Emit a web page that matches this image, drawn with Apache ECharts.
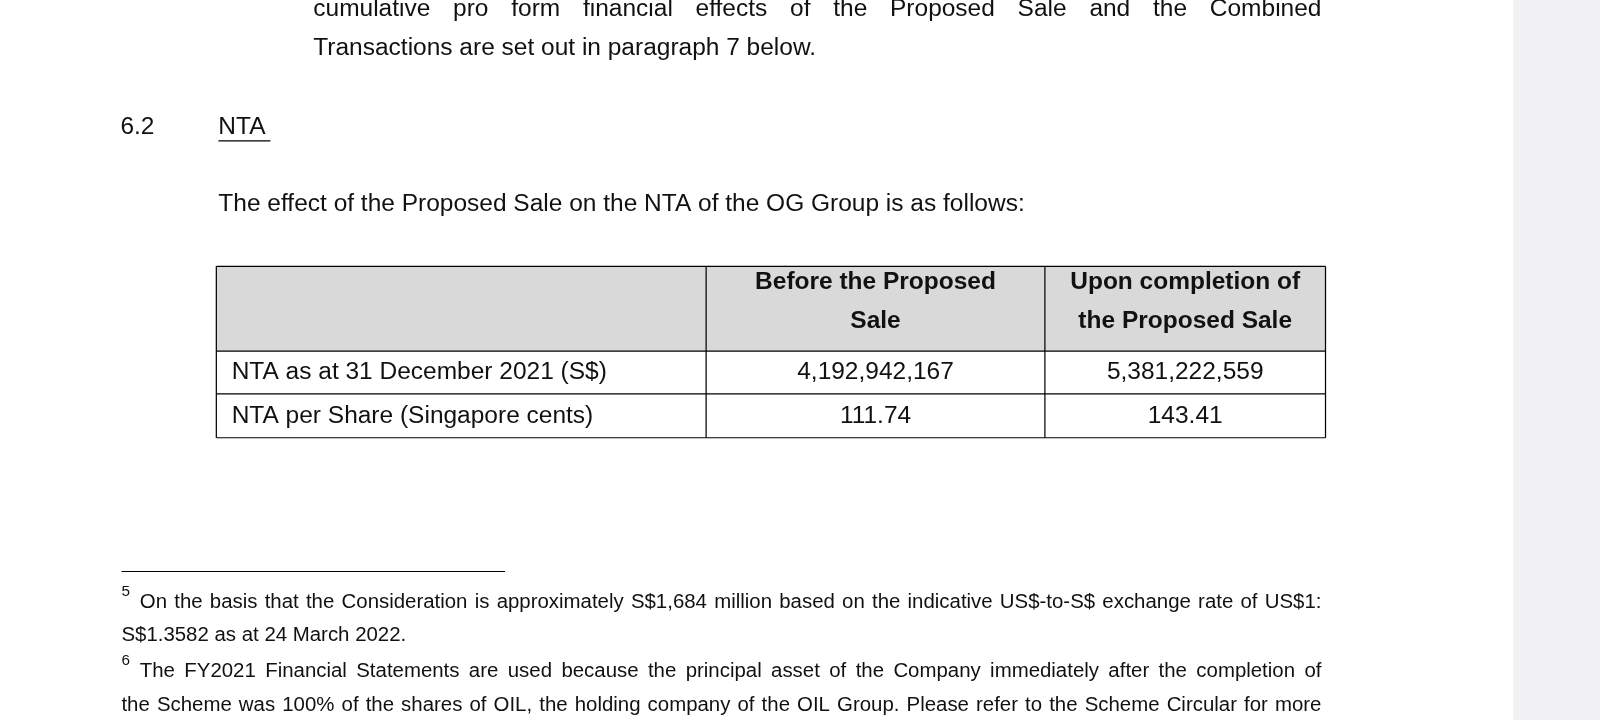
<!DOCTYPE html>
<html><head><meta charset="utf-8">
<script src="https://cdn.jsdelivr.net/npm/echarts@6/dist/echarts.min.js"></script>
<style>html,body{margin:0;padding:0;background:#fff}#c{width:1600px;height:720px}</style>
</head><body><div id="c"></div>
<script>
const introLines = ["cumulative pro form financial effects of the Proposed Sale and the Combined", "Transactions are set out in paragraph 7 below."];
const sectionNo = "6.2";
const sectionTitle = "NTA";
const leadText = "The effect of the Proposed Sale on the NTA of the OG Group is as follows:";
const headers = [["", ""], ["Before the Proposed", "Sale"], ["Upon completion of", "the Proposed Sale"]];
const rowLabels = ["NTA as at 31 December 2021 (S$)", "NTA per Share (Singapore cents)"];
const beforeValues = ["4,192,942,167", "111.74"];
const afterValues = ["5,381,222,559", "143.41"];
const footnotes = [
  {mark: "5", lines: ["On the basis that the Consideration is approximately S$1,684 million based on the indicative US$-to-S$ exchange rate of US$1:", "S$1.3582 as at 24 March 2022."], justify: [true, false]},
  {mark: "6", lines: ["The FY2021 Financial Statements are used because the principal asset of the Company immediately after the completion of", "the Scheme was 100% of the shares of OIL, the holding company of the OIL Group. Please refer to the Scheme Circular for more"], justify: [true, true]}
];

const F = 'Arial, "Liberation Sans", sans-serif';
const g = [];
const ctx = document.createElement('canvas').getContext('2d');
function txt(x, y, s, o) {
  o = o || {};
  g.push({type: 'text', x: x, y: y, style: {text: s, fill: '#111', font: (o.bold ? 'bold ' : '') + (o.size || 24) + 'px ' + F, textAlign: o.align || 'left', textVerticalAlign: 'middle'}});
}
function justified(x0, x1, y, s, size) {
  const words = s.split(' ');
  ctx.font = size + 'px ' + F;
  const tot = words.reduce((a, w) => a + ctx.measureText(w).width, 0);
  const gap = (x1 - x0 - tot) / (words.length - 1);
  let x = x0;
  words.forEach(w => { txt(x, y, w, {size: size}); x += ctx.measureText(w).width + gap; });
}
function line(x1, y1, x2, y2, w) {
  g.push({type: 'line', shape: {x1: x1, y1: y1, x2: x2, y2: y2}, style: {stroke: '#000', lineWidth: w || 1.2}});
}
g.push({type: 'rect', shape: {x: 1483, y: 0, width: 200, height: 720}, style: {fill: '#f1f1f3'}});
justified(307, 1295, 9, introLines[0], 24);
txt(307, 47, introLines[1]);
txt(118, 125, sectionNo);
txt(214, 125, sectionTitle);
line(214, 138, 265, 138, 1.3);
txt(214, 200, leadText);
const colX = [212, 692, 1024, 1299];
const rowY = [261, 344, 386, 429];
g.push({type: 'rect', shape: {x: 212, y: 261, width: 1087, height: 83}, style: {fill: '#d9d9d9'}});
rowY.forEach(y => line(212, y, 1299, y));
colX.forEach(x => line(x, 261, x, 429));
headers.forEach((h, i) => {
  const cx = (colX[i] + colX[i + 1]) / 2;
  txt(cx, 277, h[0], {bold: true, align: 'center'});
  txt(cx, 315, h[1], {bold: true, align: 'center'});
});
rowLabels.forEach((l, r) => {
  const cy = (rowY[r + 1] + rowY[r + 2]) / 2;
  txt(227, cy, l);
  txt((colX[1] + colX[2]) / 2, cy, beforeValues[r], {align: 'center'});
  txt((colX[2] + colX[3]) / 2, cy, afterValues[r], {align: 'center'});
});
line(119, 560, 495, 560, 1);
const fnY = [590, 658];
footnotes.forEach((f, i) => {
  txt(119, fnY[i] - 10, f.mark, {size: 15});
  if (f.justify[0]) justified(137, 1295, fnY[i], f.lines[0], 20); else txt(137, fnY[i], f.lines[0], {size: 20});
  if (f.justify[1]) justified(119, 1295, fnY[i] + 33, f.lines[1], 20); else txt(119, fnY[i] + 33, f.lines[1], {size: 20});
});
const s = 1600 / 1568;
const chart = echarts.init(document.getElementById('c'));
chart.setOption({backgroundColor: '#fff', graphic: [{type: 'group', scaleX: s, scaleY: s, children: g}]});
</script></body></html>
